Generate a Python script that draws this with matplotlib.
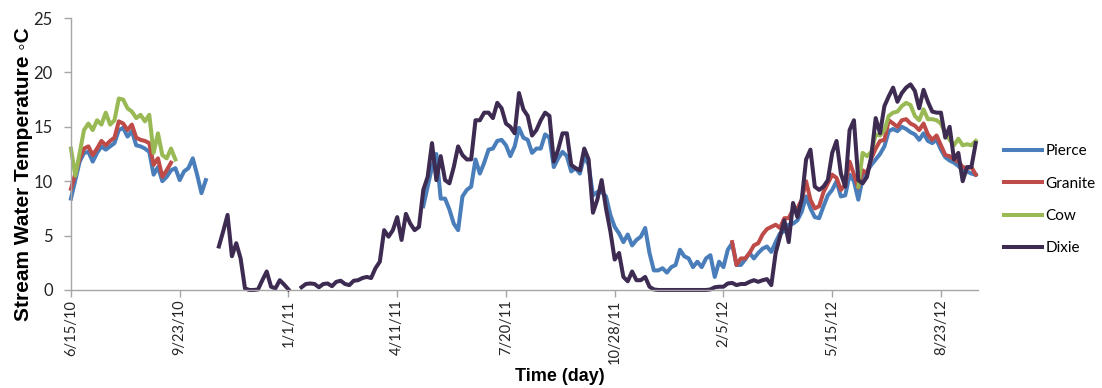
import numpy as np
import pandas as pd
import matplotlib
matplotlib.use('Agg')
import matplotlib.pyplot as plt

# Daily stream water temperature at four sites, every 4 days.
# Each series is split into the pieces where the logger was recording.

step = '4D'

pierce_a_start = '2010-06-15'
pierce_a = [8.4, 10.1, 11.8, 12.6, 12.7, 11.8, 12.6, 13.2, 12.9, 13.2, 13.5, 14.7, 14.9, 14.1, 14.6, 13.3,
            13.2, 13.0, 12.7, 10.6, 11.3, 10.0, 10.4, 11.0, 11.2, 10.1, 10.9, 11.2, 12.1, 10.6, 8.9, 10.1]

pierce_b_start = '2011-05-05'
pierce_b = [7.7, 9.5, 11.3, 12.5, 8.4, 8.4, 7.4, 6.1, 5.5, 8.6, 9.2, 9.5, 12.0, 10.7, 11.7, 12.9,
            13.0, 13.7, 13.8, 13.3, 12.3, 13.2, 14.9, 14.0, 13.8, 12.6, 13.0,
            13.0, 14.3, 14.0, 11.3, 12.1, 12.7, 12.3, 10.9, 11.2, 10.7, 12.3, 11.5, 8.7, 9.0, 9.0,
            8.6, 6.9, 5.8, 5.2, 4.4, 5.1, 4.1, 4.6, 4.9, 5.7, 3.4, 1.8, 1.8, 2.0, 1.6, 2.1, 2.3,
            3.7, 3.1, 2.9, 2.1, 2.6, 2.1, 2.9, 3.2, 1.2, 2.6, 2.1, 3.7, 4.3, 2.3, 2.3, 2.8, 3.4,
            2.9, 3.4, 3.8, 4.0,
            3.5, 4.4, 5.2, 5.4, 6.0, 6.1, 6.4, 7.2, 8.6, 7.5, 6.7, 6.6, 7.7, 8.7, 9.2, 10.0,
            8.6, 8.7, 10.6, 10.0, 8.3, 10.3, 10.9, 11.5, 12.0, 12.5, 13.2, 14.6, 14.8, 14.6, 15.0,
            14.8, 14.5, 14.3, 13.8, 14.4, 13.7, 13.5, 13.8, 12.9, 12.2, 11.9, 11.7, 11.4, 11.0,
            10.9, 10.7, 10.6]

granite_a_start = '2010-06-15'
granite_a = [9.3, 10.7, 12.1, 13.0, 13.2, 12.4, 13.0, 13.7, 13.3, 13.7, 14.0, 15.5, 15.3, 14.7, 15.2,
             14.0, 13.8, 13.7, 13.5, 11.5, 12.1, 10.4, 11.0, 11.7]

granite_b_start = '2012-02-13'
granite_b = [4.4, 2.3, 2.9, 2.9, 3.4, 4.1, 4.3, 5.1, 5.6,
             5.8, 6.0, 5.7, 6.6, 6.6, 7.4, 7.5, 8.3, 10.0, 8.3, 7.5, 7.7, 9.0, 9.8, 10.6, 10.3,
             9.2, 9.7, 11.8, 10.6, 9.4, 11.0, 10.7, 12.1, 13.0, 13.7, 13.8, 15.6, 15.3, 15.0, 15.6,
             15.7, 15.3, 15.1, 14.7, 15.3, 14.3, 13.8, 14.2, 13.3, 12.4, 12.3, 12.0, 11.8, 11.3,
             11.2, 11.3, 10.6]

cow_a_start = '2010-06-15'
cow_a = [13.0, 10.5, 12.6, 14.7, 15.3, 14.7, 15.6, 15.2, 16.3, 15.2, 15.6, 17.6, 17.5, 16.7, 16.4,
         15.8, 16.1, 15.5, 16.1, 12.6, 14.4, 12.4, 12.1, 13.0, 12.0]

cow_b_start = '2012-06-08'
cow_b = [9.5, 12.6, 12.3, 12.7, 14.3, 14.2, 14.7, 16.0, 16.3, 16.4, 16.9, 17.2, 17.0, 16.0, 15.6,
         16.6, 15.7, 15.7, 15.6, 15.3, 14.4, 13.8, 13.3, 13.9, 13.3, 13.4, 13.3, 13.7]

dixie_start = '2010-10-29'
dixie = [4.0, 5.4, 6.9, 3.1, 4.3, 2.9, 0.15, 0.0, 0.0, 0.05, 0.9, 1.7, 0.3, 0.15, 0.9, 0.5, 0.05,
         np.nan, np.nan,
         0.25, 0.55, 0.6, 0.55, 0.25, 0.55, 0.6, 0.35, 0.75, 0.85, 0.55, 0.45, 0.85, 0.9, 1.1,
         1.2, 1.1, 2.0, 2.6, 5.5, 4.9, 5.5, 6.7, 4.6, 7.0, 6.1, 5.5, 5.8,
         9.2, 10.4, 13.5, 10.1, 12.3, 10.1, 9.8, 11.3, 13.2, 12.4, 12.0, 12.0, 15.6, 15.6, 16.3,
         16.3, 15.8, 17.2, 16.7, 15.3, 15.0, 14.4, 18.1, 16.6, 16.0, 14.2, 14.7,
         15.6, 16.3, 16.0, 11.8, 12.9, 14.4, 14.4, 11.5, 11.2, 11.0, 13.0, 12.0, 7.1, 8.3, 10.1,
         7.5, 5.4, 2.8, 3.4, 1.2, 0.8, 1.7, 0.9, 0.9, 1.2, 0.3,
         0.05, 0.0, 0.0, 0.0, 0.0, 0.0, 0.0, 0.0, 0.0, 0.0, 0.0, 0.0, 0.0, 0.05,
         0.25, 0.3, 0.3, 0.6, 0.65, 0.45, 0.55, 0.55, 0.75, 0.9, 0.75, 0.9, 1.0,
         0.45, 3.4, 4.9, 6.4, 4.4, 8.0, 6.7, 8.3, 12.0, 12.9, 9.5, 9.2, 9.5, 10.1, 12.6, 13.7,
         10.7, 9.5, 14.7, 15.6, 10.1, 9.8, 10.4, 12.3, 15.8, 14.4, 16.9, 17.8, 18.6, 17.3, 18.1,
         18.6, 18.9, 18.3, 16.7, 18.4, 17.3, 16.4, 16.3, 16.3, 14.0, 15.0, 12.0, 12.6, 10.0,
         11.3, 11.3, 13.5]

tick_dates = ['2010-06-15', '2010-09-23', '2011-01-01', '2011-04-11', '2011-07-20',
              '2011-10-28', '2012-02-05', '2012-05-15', '2012-08-23']
tick_labels = ['6/15/10', '9/23/10', '1/1/11', '4/11/11', '7/20/11',
               '10/28/11', '2/5/12', '5/15/12', '8/23/12']
x_range = ['2010-06-15', '2012-09-26']

colors = {'Pierce': '#4A7EBB', 'Granite': '#BE4B48', 'Cow': '#98B954', 'Dixie': '#3D2B52'}
grey = '#A6A6A6'


# Turns a start date and a list of values into a date index for plotting
def series(start, values):
    dates = pd.date_range(start, periods=len(values), freq=step)
    return dates, np.array(values, dtype=float)


fig = plt.figure(figsize=(11.02, 3.88), dpi=100)
ax = fig.add_axes([0.0644, 0.2526, 0.823, 0.701])

segments = [('Pierce', [(pierce_a_start, pierce_a), (pierce_b_start, pierce_b)]),
            ('Granite', [(granite_a_start, granite_a), (granite_b_start, granite_b)]),
            ('Cow', [(cow_a_start, cow_a), (cow_b_start, cow_b)]),
            ('Dixie', [(dixie_start, dixie)])]

for name, parts in segments:
    for k, (start, values) in enumerate(parts):
        x, y = series(start, values)
        ax.plot(x, y, color=colors[name], lw=2.9, solid_joinstyle='round',
                label=name if k == 0 else None, clip_on=False)

ax.set_xlim(pd.Timestamp(x_range[0]), pd.Timestamp(x_range[1]))
ax.set_ylim(0, 25)
ax.set_yticks(range(0, 26, 5))
ax.set_xticks(pd.to_datetime(tick_dates))
ax.set_xticklabels(tick_labels, rotation=90, fontsize=10.5, family='Lato', color='#262626')
for lab in ax.get_yticklabels():
    lab.set_fontsize(12)
    lab.set_family('Lato')
    lab.set_color('#262626')

for side in ['top', 'right']:
    ax.spines[side].set_visible(False)
for side in ['left', 'bottom']:
    ax.spines[side].set_color(grey)
    ax.spines[side].set_linewidth(1.0)
ax.tick_params(axis='both', colors=grey, length=5, width=1.0)
ax.tick_params(axis='x', pad=2, labelcolor='#262626')
ax.tick_params(axis='y', pad=8, labelcolor='#262626')

ax.set_ylabel('Stream Water Temperature \u25e6C', fontsize=15, fontweight='bold',
              family=['Liberation Sans', 'DejaVu Sans'])
ax.yaxis.set_label_coords(-0.042, 0.425)
ax.set_xlabel('Time (day)', fontsize=13, fontweight='bold',
              family=['Liberation Sans Narrow', 'DejaVu Sans Condensed', 'Liberation Sans'])
ax.xaxis.set_label_coords(0.539, -0.285)

fig.legend(loc='upper left', bbox_to_anchor=(0.911, 0.628), frameon=False,
           prop={'family': 'Lato', 'size': 11}, handlelength=2.5, handletextpad=0.2,
           labelspacing=1.2, borderpad=0, borderaxespad=0)

plt.savefig('out.png', dpi=100)
